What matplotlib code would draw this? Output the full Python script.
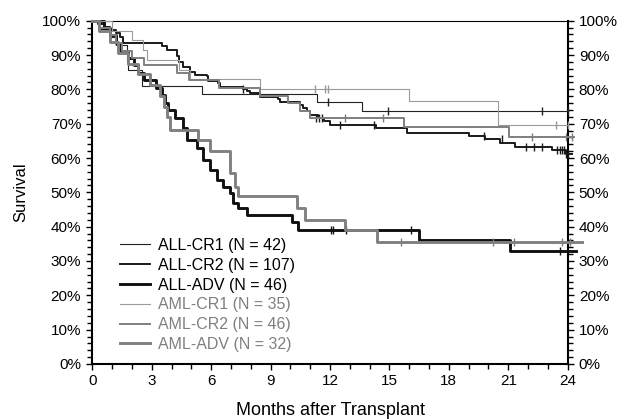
import numpy as np
import matplotlib
matplotlib.use('Agg')
import matplotlib.pyplot as plt
from matplotlib.ticker import MultipleLocator, FuncFormatter

plt.rcParams['font.family'] = ['Liberation Sans', 'DejaVu Sans']

# Kaplan-Meier step data (months, % surviving)
all_cr1_t = [0, 0.4, 0.9, 1.2, 1.75, 1.82, 2.49, 5.52, 11.36, 13.6, 24.0]
all_cr1_s = [100, 97.6, 95.2, 92.9, 88.1, 85.7, 81.0, 78.6, 76.2, 73.8, 73.8]
all_cr1_cens_t = [11.92, 14.95, 22.7, 24.0]
all_cr1_cens_s = [76.2, 73.8, 73.8, 73.8]

all_cr2_t = [0, 0.3, 0.6, 0.9, 1.2, 1.4, 1.57, 3.5, 3.75, 4.26, 4.4, 4.6, 4.93, 5.2,
             5.77, 5.86, 6.36, 6.45, 7.62, 7.79, 7.96, 8.47, 9.39, 9.48, 10.48, 10.65,
             10.82, 10.99, 11.4, 11.7, 12.0, 14.32, 15.87, 19.03, 19.82, 20.58, 21.34,
             23.19, 23.9, 24.2]
all_cr2_s = [100, 99.1, 98.1, 97.2, 96.3, 95.3, 93.5, 92.5, 91.6, 89.7, 88.0, 86.5, 85.2, 84.3,
             83.8, 82.3, 81.8, 80.8, 80.1, 79.4, 78.9, 77.8, 77.2, 76.2, 75.5, 74.5,
             73.6, 72.6, 71.8, 70.8, 69.7, 68.7, 67.4, 66.5, 65.5, 64.5, 63.2,
             62.2, 61.2, 61.2]
all_cr2_cens_t = [7.62, 11.3, 11.45, 11.6, 12.5, 14.2, 19.75, 20.7, 21.9, 22.3, 22.7,
                  23.45, 23.6, 23.7, 23.8, 23.9, 24.0]
all_cr2_cens_s = [80.1, 71.8, 71.8, 71.8, 69.7, 69.7, 66.5, 65.5, 63.2, 63.2, 63.2,
                  62.2, 62.2, 62.2, 62.2, 61.2, 61.2]

all_adv_t = [0, 0.6, 0.9, 1.2, 1.35, 1.8, 2.1, 2.3, 2.6, 3.2, 3.5, 3.67, 3.84, 4.17, 4.6,
             4.77, 5.27, 5.6, 5.94, 6.28, 6.61, 6.95, 7.12, 7.37, 7.79, 10.06, 10.4,
             16.5, 21.1, 24.4]
all_adv_s = [100, 97.8, 95.7, 93.5, 91.3, 89.1, 87.0, 84.8, 82.6, 80.4, 78.3, 76.1, 74.1,
             71.6, 68.7, 65.3, 62.9, 59.5, 56.6, 53.6, 51.7, 49.8, 46.9, 45.4, 43.4, 41.3,
             39.1, 36.0, 33.0, 33.0]
all_adv_cens_t = [12.05, 12.15, 12.8, 16.1, 23.6]
all_adv_cens_s = [39.1, 39.1, 39.1, 39.1, 33.0]

aml_cr1_t = [0, 1.0, 1.99, 2.58, 2.74, 4.4, 4.93, 8.47, 16.0, 20.5, 24.0]
aml_cr1_s = [100, 97.1, 94.3, 91.4, 88.6, 85.7, 82.9, 80.0, 76.5, 69.5, 69.5]
aml_cr1_cens_t = [11.24, 11.75, 11.9, 23.4, 24.0]
aml_cr1_cens_s = [80.0, 80.0, 80.0, 69.5, 69.5]

aml_cr2_t = [0, 0.4, 0.9, 1.2, 1.5, 2.0, 2.6, 4.3, 4.9, 6.4, 8.47, 9.9, 10.5, 11.0,
             15.75, 21.05, 24.3]
aml_cr2_s = [100, 97.8, 95.7, 93.5, 91.3, 89.1, 87.0, 84.8, 82.6, 80.4, 78.2, 76.0, 73.8,
             71.6, 68.9, 66.1, 66.1]
aml_cr2_cens_t = [12.76, 14.7, 22.2, 23.9, 24.2]
aml_cr2_cens_s = [71.6, 71.6, 66.1, 66.1, 66.1]

aml_adv_t = [0, 0.35, 0.9, 1.3, 1.8, 2.3, 2.9, 3.42, 3.6, 3.75, 3.92, 5.35, 5.94, 6.95,
             7.2, 7.37, 10.32, 10.74, 12.76, 14.36, 24.7]
aml_adv_s = [100, 96.9, 93.8, 90.6, 87.5, 84.4, 81.3, 78.1, 75.0, 71.9, 68.2, 65.3, 61.9,
             55.6, 51.7, 48.8, 45.3, 42.0, 39.1, 35.6, 35.6]
aml_adv_cens_t = [15.6, 20.25, 21.3, 23.7, 24.1]
aml_adv_cens_s = [35.6, 35.6, 35.6, 35.6, 35.6]

labels = ['ALL-CR1 (N = 42)', 'ALL-CR2 (N = 107)', 'ALL-ADV (N = 46)',
          'AML-CR1 (N = 35)', 'AML-CR2 (N = 46)', 'AML-ADV (N = 32)']
label_colors = ['black', 'black', 'black', '#808080', '#808080', '#808080']

series = [
    (all_cr1_t, all_cr1_s, all_cr1_cens_t, all_cr1_cens_s, '#222222', 0.8),
    (all_cr2_t, all_cr2_s, all_cr2_cens_t, all_cr2_cens_s, '#1a1a1a', 1.4),
    (all_adv_t, all_adv_s, all_adv_cens_t, all_adv_cens_s, '#111111', 2.1),
    (aml_cr1_t, aml_cr1_s, aml_cr1_cens_t, aml_cr1_cens_s, '#9a9a9a', 0.8),
    (aml_cr2_t, aml_cr2_s, aml_cr2_cens_t, aml_cr2_cens_s, '#7f7f7f', 1.4),
    (aml_adv_t, aml_adv_s, aml_adv_cens_t, aml_adv_cens_s, '#808080', 2.1),
]

fig = plt.figure(figsize=(6.31, 4.19), dpi=100)
ax = fig.add_axes([0.1463, 0.1313, 0.7534, 0.8193])

handles = []
for (t, s, ct, cs, col, lw), lab in zip(series, labels):
    h, = ax.step(t, s, where='post', color=col, lw=lw, label=lab, clip_on=False, zorder=3)
    ax.plot(ct, cs, ls='none', marker='|', ms=6, mew=1.0, color=col, clip_on=False, zorder=3)
    handles.append(h)

ax.set_xlim(0, 24)
ax.set_ylim(0, 100)
ax.xaxis.set_major_locator(MultipleLocator(3))
ax.xaxis.set_minor_locator(MultipleLocator(1))
ax.yaxis.set_major_locator(MultipleLocator(10))
ax.yaxis.set_minor_locator(MultipleLocator(2))
ax.yaxis.set_major_formatter(FuncFormatter(lambda v, p: f'{int(v)}%'))

ax.tick_params(axis='both', which='both', direction='out', color='black', width=1.0)
ax.tick_params(axis='both', which='major', length=4, labelsize=11, pad=3)
ax.tick_params(axis='y', which='major', pad=4)
ax.tick_params(axis='both', which='minor', length=3.5)
ax.tick_params(axis='y', which='both', left=True, right=True, labelleft=True, labelright=True)

for side in ['left', 'right', 'bottom']:
    ax.spines[side].set_linewidth(1.5)
ax.spines['top'].set_linewidth(0.8)

ax.set_xlabel('Months after Transplant', fontsize=13, labelpad=10)
ax.set_ylabel('Survival', fontsize=12, labelpad=10)

leg = ax.legend(handles=handles, loc='lower left', bbox_to_anchor=(0.058, 0.035),
                frameon=False, fontsize=11.5, handlelength=1.9, handletextpad=0.5,
                labelspacing=0.3, borderpad=0, borderaxespad=0)
for txt, col in zip(leg.get_texts(), label_colors):
    txt.set_color(col)

fig.savefig('out.png', dpi=100)
